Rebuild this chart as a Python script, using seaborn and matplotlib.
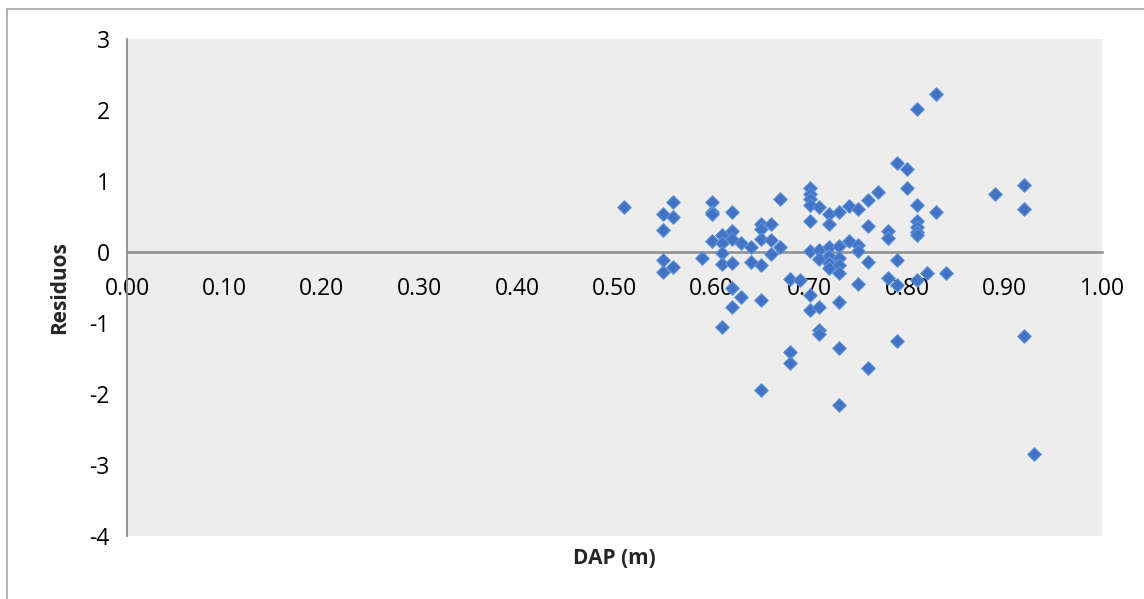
import matplotlib
matplotlib.use("Agg")
import matplotlib.pyplot as plt
import seaborn as sns
import pandas as pd
from matplotlib.lines import Line2D

dap = [0.51, 0.55, 0.55, 0.55, 0.55, 0.56, 0.56, 0.56, 0.59, 0.60,
       0.60, 0.60, 0.60, 0.61, 0.61, 0.61, 0.61, 0.61, 0.62, 0.62,
       0.62, 0.62, 0.62, 0.62, 0.63, 0.63, 0.64, 0.64, 0.65, 0.65,
       0.65, 0.65, 0.65, 0.65, 0.66, 0.66, 0.66, 0.67, 0.67, 0.68,
       0.68, 0.68, 0.69, 0.70, 0.70, 0.70, 0.70, 0.70, 0.70, 0.70,
       0.70, 0.71, 0.71, 0.71, 0.71, 0.71, 0.71, 0.72, 0.72, 0.72,
       0.72, 0.72, 0.72, 0.73, 0.73, 0.73, 0.73, 0.73, 0.73, 0.73,
       0.73, 0.74, 0.74, 0.75, 0.75, 0.75, 0.75, 0.76, 0.76, 0.76,
       0.76, 0.77, 0.78, 0.78, 0.78, 0.79, 0.79, 0.79, 0.79, 0.80,
       0.80, 0.81, 0.81, 0.81, 0.81, 0.81, 0.81, 0.81, 0.82, 0.83,
       0.83, 0.84, 0.89, 0.92, 0.92, 0.92, 0.93]
residuos = [0.64, 0.53, 0.31, -0.11, -0.28, 0.71, 0.49, -0.21, -0.08, 0.71,
            0.57, 0.53, 0.15, 0.24, 0.13, -0.02, -0.17, -1.06, 0.56, 0.29,
            0.19, -0.15, -0.51, -0.77, 0.12, -0.64, 0.07, -0.14, 0.40, 0.33,
            0.19, -0.19, -0.67, -1.95, 0.40, 0.17, -0.03, 0.74, 0.07, -0.38,
            -1.41, -1.56, -0.39, 0.90, 0.82, 0.75, 0.66, 0.44, 0.02, -0.60,
            -0.82, 0.64, 0.03, -0.10, -0.77, -1.10, -1.15, 0.54, 0.39, 0.07,
            -0.06, -0.16, -0.23, 0.57, 0.08, -0.08, -0.19, -0.30, -0.71, -1.35,
            -2.15, 0.65, 0.15, 0.60, 0.10, 0.02, -0.45, 0.73, 0.37, -0.14,
            -1.63, 0.84, 0.29, 0.20, -0.37, 1.25, -0.11, -0.46, -1.25, 1.17,
            0.90, 2.02, 0.66, 0.44, 0.35, 0.28, 0.24, -0.40, -0.29, 2.22,
            0.57, -0.30, 0.81, 0.95, 0.61, -1.19, -2.85]

x_ticks = [0.0, 0.1, 0.2, 0.3, 0.4, 0.5, 0.6, 0.7, 0.8, 0.9, 1.0]
x_ticklabels = ["0.00", "0.10", "0.20", "0.30", "0.40", "0.50",
                "0.60", "0.70", "0.80", "0.90", "1.00"]
y_ticks = [3, 2, 1, 0, -1, -2, -3, -4]
y_ticklabels = ["3", "2", "1", "0", "-1", "-2", "-3", "-4"]

df = pd.DataFrame({"DAP (m)": dap, "Residuos": residuos})

sns.set_style("white")
plt.rcParams["font.family"] = ["Open Sans", "DejaVu Sans"]

fig = plt.figure(figsize=(11.44, 5.99), dpi=100)
fig.patch.set_facecolor("white")
ax = fig.add_axes([127 / 1144, 1 - 536 / 599, (1102 - 127) / 1144, (536 - 39) / 599])
ax.set_facecolor("#EDEDED")

sns.scatterplot(data=df, x="DAP (m)", y="Residuos", ax=ax, marker="D", s=48,
                color="#4472C4", edgecolor="#5B93D8", linewidth=0.8, zorder=3)

ax.set_xlim(0, 1.0)
ax.set_ylim(-4, 3)
ax.set_xticks(x_ticks)
ax.set_xticklabels(x_ticklabels)
ax.set_yticks(y_ticks)
ax.set_yticklabels(y_ticklabels)

gray = "#8C8C8C"
for side in ["top", "right"]:
    ax.spines[side].set_visible(False)
ax.spines["left"].set_color(gray)
ax.spines["left"].set_linewidth(1.3)
ax.spines["bottom"].set_position(("data", 0))
ax.spines["bottom"].set_color(gray)
ax.spines["bottom"].set_linewidth(1.8)
ax.spines["bottom"].set_zorder(2)

ax.tick_params(axis="x", direction="out", length=6, width=1.5, color=gray,
               labelsize=16.5, pad=12, labelcolor="black")
ax.tick_params(axis="y", direction="out", length=6.5, width=1.0, color=gray,
               labelsize=16.5, pad=6, labelcolor="black")
ax.grid(False)

ax.set_xlabel("DAP (m)", fontsize=15, fontweight="bold", labelpad=0)
ax.xaxis.set_label_coords(0.5, -0.025)
ax.set_ylabel("Residuos", fontsize=15, fontweight="bold", labelpad=14)

# chart-area border lines
fig.add_artist(Line2D([7 / 1144, 1.0], [1 - 9 / 599, 1 - 9 / 599],
                      transform=fig.transFigure, color="#A6A6A6", linewidth=1.2))
fig.add_artist(Line2D([7 / 1144, 7 / 1144], [0, 1 - 9 / 599],
                      transform=fig.transFigure, color="#A6A6A6", linewidth=1.2))

fig.savefig("out.png", dpi=100, facecolor="white")
